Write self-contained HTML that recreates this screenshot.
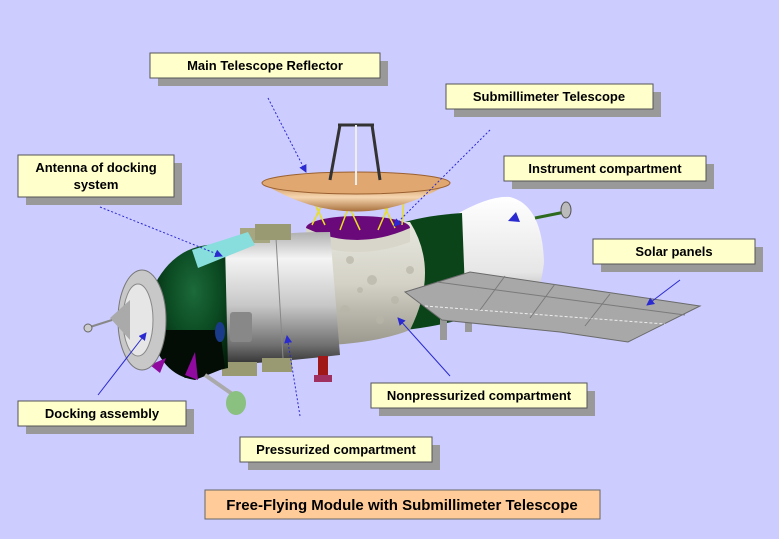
<!DOCTYPE html>
<html><head><meta charset="utf-8"><style>
html,body{margin:0;padding:0;background:#ccccff;}
svg{display:block;}
text{font-family:"Liberation Sans",sans-serif;font-weight:bold;font-size:13px;fill:#000;}
</style></head><body>
<svg width="779" height="539" viewBox="0 0 779 539" xmlns="http://www.w3.org/2000/svg">
<defs>
<linearGradient id="silver" x1="0" y1="0" x2="0" y2="1">
<stop offset="0" stop-color="#b0b0b0"/><stop offset="0.2" stop-color="#f4f4f4"/><stop offset="0.55" stop-color="#c8c8c8"/><stop offset="0.85" stop-color="#707070"/><stop offset="1" stop-color="#303030"/></linearGradient>
<linearGradient id="tex" x1="0" y1="0" x2="0" y2="1">
<stop offset="0" stop-color="#e8e8e0"/><stop offset="0.5" stop-color="#d4d2c6"/><stop offset="1" stop-color="#9a988c"/></linearGradient>
<radialGradient id="green" cx="0.55" cy="0.35" r="0.7">
<stop offset="0" stop-color="#1c6a3a"/><stop offset="0.5" stop-color="#0b4a22"/><stop offset="1" stop-color="#021a08"/></radialGradient>
<linearGradient id="white" x1="0" y1="0" x2="0" y2="1">
<stop offset="0" stop-color="#ffffff"/><stop offset="0.6" stop-color="#e6e6e6"/><stop offset="1" stop-color="#8a8a8a"/></linearGradient>
<linearGradient id="dish" x1="0" y1="0" x2="0" y2="1">
<stop offset="0" stop-color="#c88a50"/><stop offset="0.5" stop-color="#f6d6b0"/><stop offset="1" stop-color="#a8703c"/></linearGradient>
<marker id="ah" markerWidth="8" markerHeight="8" refX="7" refY="4" orient="auto" markerUnits="userSpaceOnUse"><path d="M0,0 L8,4 L0,8 z" fill="#2a2ad0"/></marker>
</defs>

<!-- rear white section -->
<path d="M455,215 Q490,195 510,197 Q542,205 544,262 Q540,305 515,314 L455,322 Z" fill="url(#white)"/>
<line x1="535" y1="218" x2="565" y2="212" stroke="#2e6a1e" stroke-width="3"/>
<ellipse cx="566" cy="210" rx="5" ry="8" fill="#bbb" stroke="#555"/>
<!-- dark green band -->
<path d="M405,222 Q430,215 462,213 L466,318 Q440,326 405,330 Z" fill="#0a4418"/>
<!-- legs -->
<rect x="440" y="318" width="7" height="22" fill="#999"/><rect x="465" y="312" width="7" height="20" fill="#999"/>
<!-- nonpressurized compartment -->
<path d="M318,232 Q360,222 410,222 Q440,270 410,330 Q380,342 330,345 Z" fill="url(#tex)"/>
<g fill="#b8b6a8" opacity="0.7">
<circle cx="350" cy="260" r="4"/><circle cx="372" cy="280" r="5"/><circle cx="395" cy="300" r="4"/><circle cx="345" cy="310" r="5"/><circle cx="380" cy="320" r="4"/><circle cx="410" cy="270" r="4"/><circle cx="360" cy="290" r="3"/>
</g>
<!-- solar panels (in front) -->
<polygon points="405,292 470,272 700,306 628,342 560,332 442,320" fill="#a8a8a8" stroke="#6a6a6a"/>
<g stroke="#7a7a7a" stroke-width="1">
<line x1="425" y1="306" x2="665" y2="324" stroke-dasharray="3,2" stroke="#eee"/>
<line x1="437" y1="282" x2="685" y2="315"/>
<line x1="480" y1="310" x2="505" y2="276"/><line x1="530" y1="318" x2="555" y2="284"/><line x1="585" y1="326" x2="610" y2="294"/>
</g>
<!-- telescope ring on top -->
<ellipse cx="358" cy="228" rx="52" ry="12" fill="#6a0a7a"/>
<path d="M306,228 Q356,252 410,228 L410,242 Q356,262 306,242 Z" fill="#d8d6ca"/>
<g stroke="#e8e020" stroke-width="1.5">
<line x1="312" y1="225" x2="325" y2="198"/><line x1="325" y1="225" x2="312" y2="198"/>
<line x1="340" y1="230" x2="352" y2="198"/><line x1="360" y1="230" x2="345" y2="198"/>
<line x1="378" y1="230" x2="392" y2="198"/><line x1="395" y1="228" x2="380" y2="198"/>
<line x1="402" y1="225" x2="404" y2="198"/>
</g>
<!-- dish -->
<path d="M262,183 Q355,240 450,183 Z" fill="url(#dish)"/>
<ellipse cx="356" cy="183" rx="94" ry="11" fill="#e0a870" stroke="#9a6030"/>
<g stroke="#333" stroke-width="3"><line x1="330" y1="180" x2="340" y2="125"/><line x1="380" y1="180" x2="372" y2="125"/></g>
<line x1="338" y1="125" x2="374" y2="125" stroke="#333" stroke-width="3"/>
<line x1="356" y1="125" x2="356" y2="185" stroke="#eee" stroke-width="2"/>
<!-- main pressurized cylinder -->
<path d="M215,245 Q260,232 330,232 L340,355 Q280,362 225,365 Z" fill="url(#silver)"/>
<line x1="276" y1="238" x2="283" y2="358" stroke="#888"/>
<rect x="230" y="312" width="22" height="30" fill="#888" rx="3"/>
<rect x="240" y="228" width="30" height="15" fill="#a6a680"/><rect x="255" y="224" width="36" height="16" fill="#9a9a72"/>
<rect x="222" y="362" width="35" height="14" fill="#9a9a72"/><rect x="262" y="358" width="30" height="14" fill="#9a9a72"/>
<rect x="318" y="356" width="10" height="22" fill="#a01818"/><rect x="314" y="375" width="18" height="7" fill="#a03060"/>
<!-- green dome -->
<path d="M225,245 Q175,240 152,290 Q148,350 185,378 L228,368 Z" fill="url(#green)"/>
<path d="M150,330 Q160,375 195,380 L225,368 L220,330 Z" fill="#030d05"/>
<polygon points="192,250 248,232 255,245 198,268" fill="#88dddd"/>
<polygon points="150,365 166,358 160,373" fill="#900aa0"/><polygon points="185,375 195,352 198,380" fill="#900aa0"/>
<ellipse cx="220" cy="332" rx="5" ry="10" fill="#1a3a8a"/>
<!-- docking assembly -->
<ellipse cx="142" cy="320" rx="24" ry="50" fill="#c8c8c8" stroke="#777"/>
<ellipse cx="138" cy="320" rx="15" ry="36" fill="#e6e6e6" stroke="#888"/>
<path d="M130,300 L110,318 L130,340 Z" fill="#aaa"/>
<line x1="90" y1="327" x2="112" y2="320" stroke="#888" stroke-width="2"/><circle cx="88" cy="328" r="4" fill="#ccc" stroke="#666"/>
<!-- small antenna bottom -->
<line x1="205" y1="375" x2="238" y2="398" stroke="#aaa" stroke-width="4"/>
<ellipse cx="236" cy="403" rx="10" ry="12" fill="#8ac080"/>

<!-- connectors -->
<g stroke="#2a2ad0" stroke-width="1" fill="none" marker-end="url(#ah)">
<line x1="268" y1="98" x2="306" y2="172" stroke-dasharray="2,2"/>
<line x1="490" y1="130" x2="394" y2="226" stroke-dasharray="2,2"/>
<line x1="100" y1="207" x2="222" y2="256" stroke-dasharray="2,2"/>
<line x1="680" y1="280" x2="647" y2="305"/>
<line x1="450" y1="376" x2="398" y2="318"/>
<line x1="98" y1="395" x2="146" y2="333"/>
<line x1="300" y1="416" x2="287" y2="336" stroke-dasharray="2,2"/>
</g>
<polygon points="508,221 516,212 520,222" fill="#2a2ad0"/>

<!-- labels -->
<g>
<rect x="158" y="61" width="230" height="25" fill="#999"/><rect x="150" y="53" width="230" height="25" fill="#ffffcc" stroke="#555"/>
<text x="265" y="70" text-anchor="middle">Main Telescope Reflector</text>
<rect x="454" y="92" width="207" height="25" fill="#999"/><rect x="446" y="84" width="207" height="25" fill="#ffffcc" stroke="#555"/>
<text x="549" y="101" text-anchor="middle">Submillimeter Telescope</text>
<rect x="26" y="163" width="156" height="42" fill="#999"/><rect x="18" y="155" width="156" height="42" fill="#ffffcc" stroke="#555"/>
<text x="96" y="172" text-anchor="middle">Antenna of docking</text><text x="96" y="189" text-anchor="middle">system</text>
<rect x="512" y="164" width="202" height="25" fill="#999"/><rect x="504" y="156" width="202" height="25" fill="#ffffcc" stroke="#555"/>
<text x="605" y="173" text-anchor="middle">Instrument compartment</text>
<rect x="601" y="247" width="162" height="25" fill="#999"/><rect x="593" y="239" width="162" height="25" fill="#ffffcc" stroke="#555"/>
<text x="674" y="256" text-anchor="middle">Solar panels</text>
<rect x="379" y="391" width="216" height="25" fill="#999"/><rect x="371" y="383" width="216" height="25" fill="#ffffcc" stroke="#555"/>
<text x="479" y="400" text-anchor="middle">Nonpressurized compartment</text>
<rect x="26" y="409" width="168" height="25" fill="#999"/><rect x="18" y="401" width="168" height="25" fill="#ffffcc" stroke="#555"/>
<text x="102" y="418" text-anchor="middle">Docking assembly</text>
<rect x="248" y="445" width="192" height="25" fill="#999"/><rect x="240" y="437" width="192" height="25" fill="#ffffcc" stroke="#555"/>
<text x="336" y="454" text-anchor="middle">Pressurized compartment</text>
<rect x="205" y="490" width="395" height="29" fill="#ffcc99" stroke="#666"/>
<text x="402" y="510" text-anchor="middle" style="font-size:15px">Free-Flying Module with Submillimeter Telescope</text>
</g>
</svg>
</body></html>
